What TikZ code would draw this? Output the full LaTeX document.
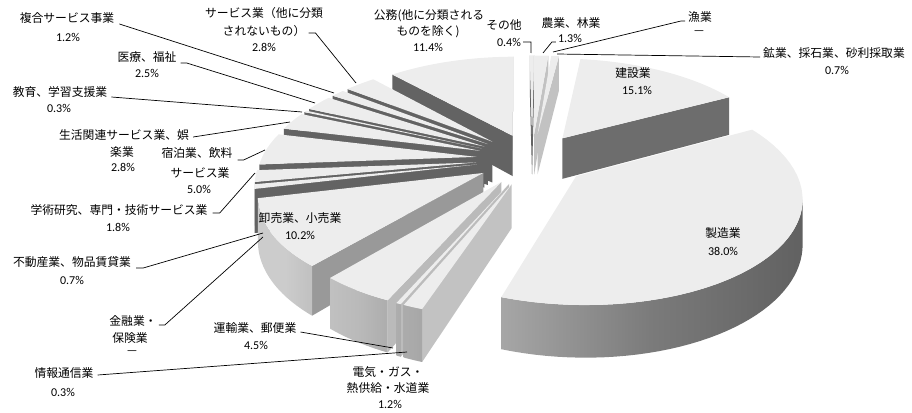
\documentclass[tikz,border=0pt]{standalone}
\usepackage{fontspec}
\setmainfont{Carlito}
\newfontfamily\jpfont{Noto Sans CJK JP}

% pie geometry (px)
\def\ctrx{532}
\def\ctry{159}
\def\radx{215}
\def\rady{100}
\def\dist{5.8}
\def\depth{42}
\def\expl{0.26}
\definecolor{topc}{gray}{0.93}

\begin{document}
\begin{tikzpicture}[x=1pt,y=-1pt,
	declare function={
		px(\u,\v)=\ctrx+\radx*\dist*\u/(\dist+\v);
		py(\u,\v,\z)=\ctry+(\depth*\z-\rady*\v)*\dist/(\dist+\v);
		fl(\n)=max(0.39,min(0.76,0.76-0.008*(\n-110)));
		wl(\a)=(\a<145)?0.38:((\a<200)?(0.38+0.0051*(\a-145)):min(0.80,0.66+0.0047*(\a-200)));
	},
	pie/.style={samples=40,variable=\t},
	lbl/.style={font=\jpfont\fontsize{11.8}{14}\selectfont,inner sep=0pt},
	pct/.style={font=\fontsize{12}{14}\selectfont,inner sep=0pt},
	lead/.style={line width=0.7pt}]
	\useasboundingbox (0,0) rectangle (912,412);
	% slices, back to front
	\foreach \ps/\pe in {99.8/100.2,0/1.3,1.3/2.0,88.4/99.8,2.0/17.1,85.6/88.4,84.4/85.6,81.9/84.4,81.6/81.9,78.8/81.6,73.8/78.8,72.0/73.8,71.3/72.0,61.1/71.3,17.1/55.1,56.6/61.1,56.3/56.6,55.1/56.3}{
		\pgfmathsetmacro\ts{3.6*\ps}
		\pgfmathsetmacro\te{3.6*\pe}
		\pgfmathsetmacro\eu{\expl*sin((\ts+\te)/2)}
		\pgfmathsetmacro\ev{\expl*cos((\ts+\te)/2)}
		\coordinate (o) at ({px(\eu,\ev)},{py(\eu,\ev,0)});
		\coordinate (ob) at ({px(\eu,\ev)},{py(\eu,\ev,1)});
		% start face
		\pgfmathtruncatemacro\vis{(\eu*cos(\ts)-sin(\ts)*(\dist+\ev))>0}
		\ifnum\vis=1
			\pgfmathsetmacro\flc{fl(\ts-90)}
			\definecolor{side}{gray}{\flc}
			\fill[side] (o) -- ({px(\eu+sin(\ts),\ev+cos(\ts))},{py(\eu+sin(\ts),\ev+cos(\ts),0)})
				-- ({px(\eu+sin(\ts),\ev+cos(\ts))},{py(\eu+sin(\ts),\ev+cos(\ts),1)}) -- (ob) -- cycle;
		\fi
		% end face
		\pgfmathtruncatemacro\vis{(sin(\te)*(\dist+\ev)-\eu*cos(\te))>0}
		\ifnum\vis=1
			\pgfmathsetmacro\flc{fl(\te+90)}
			\definecolor{side}{gray}{\flc}
			\fill[side] (o) -- ({px(\eu+sin(\te),\ev+cos(\te))},{py(\eu+sin(\te),\ev+cos(\te),0)})
				-- ({px(\eu+sin(\te),\ev+cos(\te))},{py(\eu+sin(\te),\ev+cos(\te),1)}) -- (ob) -- cycle;
		\fi
		% outer wall
		\pgfmathsetmacro\ta{max(\ts,acos(-(1+\eu)/(\dist+\ev)))}
		\pgfmathsetmacro\tb{min(\te,360-acos(-(1-\eu)/(\dist+\ev)))}
		\pgfmathtruncatemacro\vis{\tb>\ta+0.05}
		\ifnum\vis=1
			\pgfmathsetmacro\wlc{wl(\tb)}
			\pgfmathsetmacro\wrc{wl(\ta)}
			\pgfmathsetmacro\wmc{wl(0.65*\tb+0.35*\ta)}
			\definecolor{wallL}{gray}{\wlc}
			\definecolor{wallR}{gray}{\wrc}
			\definecolor{wallM}{gray}{\wmc}
			\shade[left color=wallL,right color=wallR,middle color=wallM]
				plot[pie,domain=\ta:\tb] ({px(\eu+sin(\t),\ev+cos(\t))},{py(\eu+sin(\t),\ev+cos(\t),0)})
				-- plot[pie,domain=\tb:\ta] ({px(\eu+sin(\t),\ev+cos(\t))},{py(\eu+sin(\t),\ev+cos(\t),1)}) -- cycle;
		\fi
		% top
		\fill[topc] (o) -- plot[pie,domain=\ts:\te] ({px(\eu+sin(\t),\ev+cos(\t))},{py(\eu+sin(\t),\ev+cos(\t),0)}) -- cycle;
	}

	% labels
	\node[lbl] (fukugo) at (67,18) {複合サービス事業};
	\node[pct] (fukugo-p) at (68,37) {1.2\%};
	\node[lbl] (service) at (264,13) {サービス業（他に分類};
	\node[lbl] (service-2) at (264,31) {されないもの）};
	\node[pct] (service-p) at (264,47) {2.8\%};
	\node[lbl] (komu) at (429,16) {公務(他に分類される};
	\node[lbl] (komu-2) at (428,32) {ものを除く)};
	\node[pct] (komu-p) at (428,47) {11.4\%};
	\node[lbl] (sonota) at (504,25) {その他};
	\node[pct] (sonota-p) at (509,42) {0.4\%};
	\node[lbl] (nogyo) at (571,23) {農業、林業};
	\node[pct] (nogyo-p) at (570,38) {1.3\%};
	\node[lbl] (gyogyo) at (700,17) {漁業};
	\node[pct] (gyogyo-p) at (699,33) {—};
	\node[lbl] (kogyo) at (834,53) {鉱業、採石業、砂利採取業};
	\node[pct] (kogyo-p) at (837,70) {0.7\%};
	\node[lbl] (kensetsu) at (633,73) {建設業};
	\node[pct] (kensetsu-p) at (637,90) {15.1\%};
	\node[lbl] (seizo) at (723,233) {製造業};
	\node[pct] (seizo-p) at (723,251) {38.0\%};
	\node[lbl] (denki) at (388,372) {電気・ガス・};
	\node[lbl] (denki-2) at (388,388) {熱供給・水道業};
	\node[pct] (denki-p) at (390,404) {1.2\%};
	\node[lbl] (unyu) at (255,328) {運輸業、郵便業};
	\node[pct] (unyu-p) at (256,345) {4.5\%};
	\node[lbl] (joho) at (64,373) {情報通信業};
	\node[pct] (joho-p) at (63,392) {0.3\%};
	\node[lbl] (oroshi) at (300,218) {卸売業、小売業};
	\node[pct] (oroshi-p) at (300,235) {10.2\%};
	\node[lbl] (kinyu) at (133,321) {金融業・};
	\node[lbl] (kinyu-2) at (130,338) {保険業};
	\node[pct] (kinyu-p) at (132,353) {—};
	\node[lbl] (fudosan) at (72,262) {不動産業、物品賃貸業};
	\node[pct] (fudosan-p) at (72,280) {0.7\%};
	\node[lbl] (gakujutsu) at (119,210) {学術研究、専門・技術サービス業};
	\node[pct] (gakujutsu-p) at (118,227) {1.8\%};
	\node[lbl] (shukuhaku) at (197,153) {宿泊業、飲料};
	\node[lbl] (shukuhaku-2) at (200,173) {サービス業};
	\node[pct] (shukuhaku-p) at (199,189) {5.0\%};
	\node[lbl] (seikatsu) at (124,135) {生活関連サービス業、娯};
	\node[lbl] (seikatsu-2) at (122,152) {楽業};
	\node[pct] (seikatsu-p) at (123,167) {2.8\%};
	\node[lbl] (kyoiku) at (60,92) {教育、学習支援業};
	\node[pct] (kyoiku-p) at (59,108) {0.3\%};
	\node[lbl] (iryo) at (147,57) {医療、福祉};
	\node[pct] (iryo-p) at (147,73) {2.5\%};

	% leader ends
	\coordinate (c-fukugo) at (334,93);
	\coordinate (c-service) at (356,83);
	\coordinate (c-sonota) at (531,53);
	\coordinate (c-nogyo) at (543,53);
	\coordinate (c-gyogyo) at (553,52);
	\coordinate (c-kogyo) at (557,54);
	\coordinate (c-unyu) at (393,348);
	\coordinate (c-joho) at (407,352);
	\coordinate (c-kinyu) at (263,237);
	\coordinate (c-fudosan) at (263,233);
	\coordinate (c-gakujutsu) at (255,173);
	\coordinate (c-shukuhaku) at (265,150);
	\coordinate (c-seikatsu) at (290,122);
	\coordinate (c-kyoiku) at (302,112);
	\coordinate (c-iryo) at (315,103);

	\draw[lead] ([shift={(5pt,-6pt)}]fukugo.east) -- (c-fukugo);
	\draw[lead] ([shift={(3pt,-2pt)}]service-2.east) -- ++(7,0) -- (c-service);
	\draw[lead] ([shift={(2pt,0pt)}]sonota-p.east) -- ++(8,0) -- (c-sonota);
	\draw[lead] ([shift={(-2pt,-4pt)}]nogyo-p.west) -- ++(-4,0) -- (c-nogyo);
	\draw[lead] ([shift={(-3pt,-4pt)}]gyogyo.west) -- ++(-4,0) -- (c-gyogyo);
	\draw[lead] ([shift={(-3pt,-4pt)}]kogyo.west) -- (c-kogyo);
	\draw[lead] ([shift={(4pt,-4pt)}]unyu.east) -- (c-unyu);
	\draw[lead] ([shift={(4pt,-2pt)}]joho.east) -- (c-joho);
	\draw[lead] ([shift={(2pt,-4pt)}]kinyu.east) -- ++(6,0) -- (c-kinyu);
	\draw[lead] ([shift={(5pt,-6pt)}]fudosan.east) -- ++(7,0) -- (c-fudosan);
	\draw[lead] ([shift={(5pt,-3pt)}]gakujutsu.east) -- ++(7,0) -- (c-gakujutsu);
	\draw[lead] ([shift={(5pt,-7pt)}]shukuhaku.east) -- ++(6,0) -- (c-shukuhaku);
	\draw[lead] ([shift={(4pt,-2pt)}]seikatsu.east) -- (c-seikatsu);
	\draw[lead] ([shift={(4pt,-5pt)}]kyoiku.east) -- (c-kyoiku);
	\draw[lead] ([shift={(4pt,-6pt)}]iryo.east) -- ++(6,0) -- (c-iryo);
\end{tikzpicture}
\end{document}
